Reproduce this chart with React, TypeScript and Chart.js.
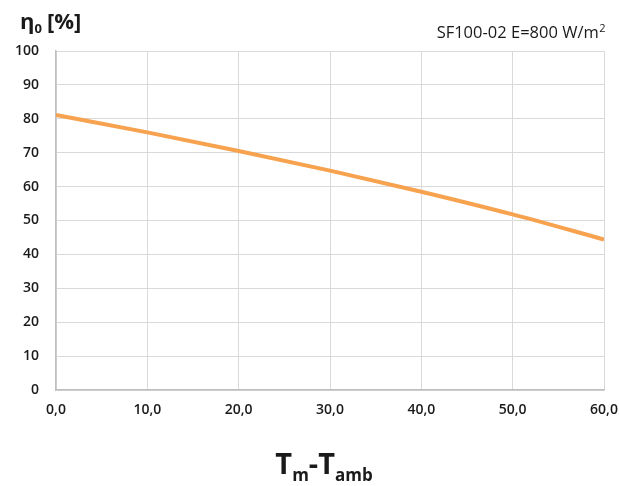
import React, { useEffect, useRef } from "react";
import { Chart, registerables } from "chart.js";

Chart.register(...registerables);

const xValues = [0, 10, 20, 30, 40, 50, 60];
const efficiency = [81.1, 76.0, 70.5, 64.7, 58.5, 51.8, 44.4];
const seriesLabel = "SF100-02 E=800 W/m²";
const FONT = "'Open Sans', 'DejaVu Sans', sans-serif";

const textPlugin = {
  id: "textPlugin",
  afterDraw(chart: any) {
    const ctx = chart.ctx;
    ctx.save();
    ctx.fillStyle = "#1a1a1a";
    ctx.textBaseline = "alphabetic";
    ctx.textAlign = "left";
    // Y title: η0 [%]
    let x = 20;
    const yb = 29;
    ctx.font = `bold 22px ${FONT}`;
    ctx.fillText("η", x, yb);
    x += ctx.measureText("η").width;
    ctx.font = `bold 13px ${FONT}`;
    ctx.fillText("0", x, yb + 4);
    x += ctx.measureText("0").width + 5;
    ctx.font = `bold 22px ${FONT}`;
    ctx.fillText("[%]", x, yb);

    // top-right label
    const main = "SF100-02 E=800 W/m";
    ctx.font = `11px ${FONT}`;
    const supW = ctx.measureText("2").width;
    ctx.font = `16.5px ${FONT}`;
    const mw = ctx.measureText(main).width;
    const rx = 605 - supW - mw;
    ctx.fillText(main, rx, 38);
    ctx.font = `11px ${FONT}`;
    ctx.fillText("2", rx + mw + 0.5, 32);

    // X title: Tm-Tamb
    const parts: [string, number, number][] = [
      ["T", 29, 0],
      ["m", 17, 7],
      ["-T", 29, 0],
      ["amb", 17, 7],
    ];
    let total = 0;
    for (const [t, s] of parts) {
      ctx.font = `bold ${s}px ${FONT}`;
      total += ctx.measureText(t).width;
    }
    let tx = 324 - total / 2;
    const tb = 474;
    for (const [t, s, dy] of parts) {
      ctx.font = `bold ${s}px ${FONT}`;
      ctx.fillText(t, tx, tb + dy);
      tx += ctx.measureText(t).width;
    }
    ctx.restore();
  },
};

export default function App() {
  const ref = useRef<HTMLCanvasElement>(null);
  useEffect(() => {
    document.body.style.margin = "0";
    const chart = new Chart(ref.current!, {
      type: "line",
      data: {
        datasets: [
          {
            label: seriesLabel,
            data: xValues.map((x, i) => ({ x, y: efficiency[i] })),
            borderColor: "#F7A24F",
            borderWidth: 4,
            pointRadius: 0,
            cubicInterpolationMode: "monotone",
            fill: false,
          },
        ],
      },
      options: {
        animation: false,
        responsive: false,
        maintainAspectRatio: false,
        layout: { padding: { left: 0, right: 15, top: 51, bottom: 0 } },
        plugins: { legend: { display: false }, tooltip: { enabled: false } },
        scales: {
          x: {
            type: "linear",
            min: 0,
            max: 60,
            ticks: {
              stepSize: 10,
              padding: 12,
              color: "#1a1a1a",
              font: { family: FONT, size: 14, weight: "600" },
              maxRotation: 0,
              callback: (v: any) => Number(v).toFixed(1).replace(".", ","),
            },
            grid: { color: "#d9d9d9", lineWidth: 1, drawTicks: false },
            border: { color: "#bfbfbf", width: 1.5 },
            afterFit: (s: any) => {
              s.height = 96;
              s.paddingLeft = 0;
              s.paddingRight = 0;
            },
          },
          y: {
            min: 0,
            max: 100,
            ticks: {
              stepSize: 10,
              padding: 17,
              color: "#1a1a1a",
              font: { family: FONT, size: 14, weight: "600" },
            },
            grid: { color: "#d9d9d9", lineWidth: 1, drawTicks: false },
            border: { color: "#bfbfbf", width: 1.5 },
            afterFit: (s: any) => {
              s.width = 56;
              s.paddingTop = 0;
              s.paddingBottom = 0;
            },
          },
        },
      },
      plugins: [textPlugin],
    } as any);
    return () => chart.destroy();
  }, []);
  return (
    <div style={{ position: "absolute", left: 0, top: 0, width: 619, height: 486, background: "#fff" }}>
      <canvas ref={ref} width={619} height={486} />
    </div>
  );
}
